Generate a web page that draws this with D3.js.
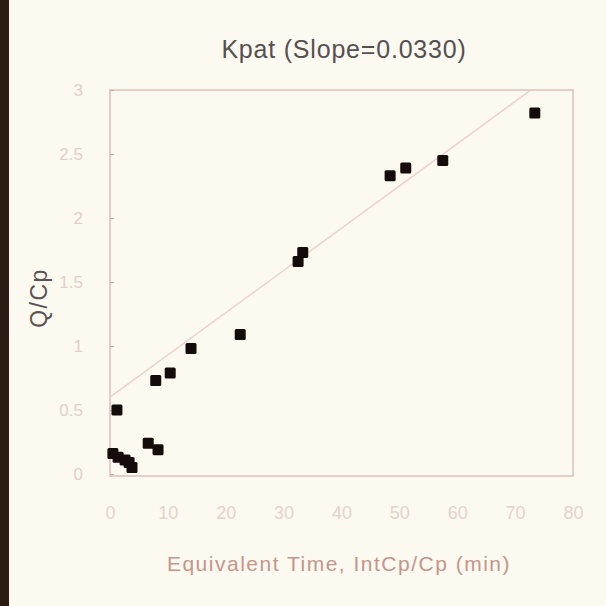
<!DOCTYPE html>
<html><head><meta charset="utf-8">
<script src="https://cdn.jsdelivr.net/npm/d3@7"></script>
<style>html,body{margin:0;padding:0;background:#fcf9f1;}</style>
</head><body>
<script>
const titleText = "Kpat (Slope=0.0330)";
const xTitle = "Equivalent Time, IntCp/Cp (min)";
const yTitle = "Q/Cp";
const xTicks = [0,10,20,30,40,50,60,70,80];
const yTicks = [0,0.5,1,1.5,2,2.5,3];
const timeValues = [0.5,1.4,2.6,3.3,3.8,6.6,8.3,1.2,7.9,10.4,14.0,22.5,32.5,33.3,48.4,51.1,57.5,73.4];
const qcpValues  = [0.16,0.13,0.11,0.09,0.05,0.24,0.19,0.50,0.73,0.79,0.98,1.09,1.66,1.73,2.33,2.39,2.45,2.82];
const slope = 0.0330;
const intercept = 0.60;
const lineRange = [0, 72.5];

const W=606,H=606;
const svg=d3.select("body").append("svg").attr("width",W).attr("height",H);
svg.append("rect").attr("width",W).attr("height",H).attr("fill","#fcf9f1");
svg.append("rect").attr("x",0).attr("y",0).attr("width",9).attr("height",H).attr("fill","#2b1b14");

const x=d3.scaleLinear().domain([0,80]).range([110,573]);
const y=d3.scaleLinear().domain([0,3]).range([474,90]);

svg.append("rect").attr("x",110).attr("y",90).attr("width",463).attr("height",386)
  .attr("fill","none").attr("stroke","#dcc0ba").attr("stroke-width",1.5);

const yAxis=d3.axisLeft(y).tickValues(yTicks).tickFormat(d=>String(d)).tickSize(-4).tickPadding(27);
const gy=svg.append("g").attr("transform","translate(110,0)").call(yAxis);
gy.select(".domain").remove();
gy.selectAll("line").attr("stroke","#c9aaa4");
gy.selectAll("text").attr("fill","#e2cfca").attr("font-family","Arial, Liberation Sans, sans-serif").attr("font-size",17);

const xAxis=d3.axisBottom(x).tickValues(xTicks).tickSize(0).tickPadding(30);
const gx=svg.append("g").attr("transform","translate(0,476)").call(xAxis);
gx.select(".domain").remove();
gx.selectAll("text").attr("fill","#e4d2cc").attr("font-family","Arial, Liberation Sans, sans-serif").attr("font-size",18);

svg.append("line")
  .attr("x1",x(lineRange[0])).attr("y1",y(intercept+slope*lineRange[0]))
  .attr("x2",x(lineRange[1])).attr("y2",y(intercept+slope*lineRange[1]))
  .attr("stroke","#ebd3cc").attr("stroke-width",1.5);

const pts=timeValues.map((t,i)=>({t,q:qcpValues[i]}));
svg.selectAll("rect.pt").data(pts).enter().append("rect").attr("class","pt")
  .attr("x",d=>x(d.t)-5.5).attr("y",d=>y(d.q)-5.5).attr("width",11).attr("height",11)
  .attr("rx",1.5).attr("fill","#140c0a");

svg.append("text").attr("x",344).attr("y",58).attr("text-anchor","middle")
  .attr("font-family","Arial, Liberation Sans, sans-serif").attr("font-size",25)
  .attr("letter-spacing",0.8).attr("fill","#555050").text(titleText);
svg.append("text").attr("x",339).attr("y",571).attr("text-anchor","middle")
  .attr("font-family","Arial, Liberation Sans, sans-serif").attr("font-size",21)
  .attr("letter-spacing",1.5).attr("fill","#c4958a").text(xTitle);
svg.append("text").attr("transform","translate(47,298) rotate(-90)").attr("text-anchor","middle")
  .attr("font-family","Arial, Liberation Sans, sans-serif").attr("font-size",23)
  .attr("letter-spacing",1.5).attr("fill","#5a5252").text(yTitle);
</script>
</body></html>
